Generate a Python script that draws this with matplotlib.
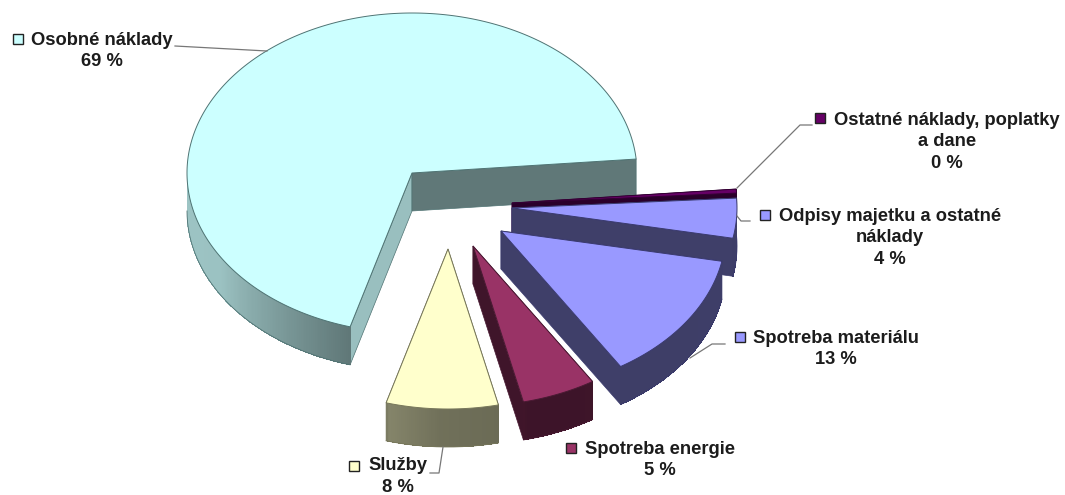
import numpy as np
import matplotlib
matplotlib.use('Agg')
import matplotlib.pyplot as plt
from matplotlib.colors import to_rgb

categories = ['Osobné náklady', 'Služby', 'Spotreba energie', 'Spotreba materiálu',
              'Odpisy majetku a ostatné\nnáklady', 'Ostatné náklady, poplatky\na dane']
values = [68.9, 8.0, 5.3, 13.0, 4.0, 0.4]
percent_labels = ['69 %', '8 %', '5 %', '13 %', '4 %', '0 %']

top_colors = ['#CCFFFF', '#FFFFCC', '#993366', '#9999FF', '#9999FF', '#660066']
line_colors = ['#4f7373', '#77775a', '#4a1a33', '#3a3a6e', '#3a3a6e', '#330033']
shifts = [(0, 0), (36, 76), (61, 73), (89, 58), (100, 35), (100, 30)]
key_pos = [(17.5, 39), (354, 466), (571, 448), (740, 337), (765, 215), (820, 118)]
label_pos = [(102, 51), (398, 476.5), (660, 460), (836, 349), (890, 238), (947, 142)]
leaders = [[(175, 46), (267, 51)],
           [(430, 473), (439, 473), (443, 447)],
           None,
           [(725, 344), (712, 344), (690, 358)],
           [(750, 221), (741, 221), (737, 216)],
           [(812, 125), (800, 125), (737, 188)]]

# ellipse of the pie top, in pixels
cx, cy = 412, 173
rx, ry = 225, 160
depth = 38
start_angle = 5.0


def point(angle, dx, dy, down=0):
    a = np.radians(angle)
    return cx + dx + rx * np.cos(a), cy + dy - ry * np.sin(a) + down


def side_shade(angle):
    return np.interp(angle, [180, 212, 254, 255, 268, 283, 284, 365],
                     [0.77, 0.76, 0.47, 0.52, 0.44, 0.42, 0.40, 0.41])


fig = plt.figure(figsize=(10.65, 4.95), dpi=100)
ax = fig.add_axes([0, 0, 1, 1])
ax.set_xlim(0, 1065)
ax.set_ylim(495, 0)
ax.axis('off')

sweeps = np.array(values) / sum(values) * 360
starts = start_angle + np.concatenate(([0], np.cumsum(sweeps)[:-1]))

# back to front: the big slice, then the thin one, then round to the front
order = [0, 5, 4, 3, 2, 1]
for z, i in enumerate(order):
    dx, dy = shifts[i]
    a0, a1 = starts[i], starts[i] + sweeps[i]
    base = np.array(to_rgb(top_colors[i]))
    edge = line_colors[i]
    apex = (cx + dx, cy + dy)

    # the two cut faces, the far one first
    near_shade = 0.47 if i == 0 else 0.41
    far_shade = 0.75 if i == 0 else 0.41
    for ang, shade in ((a1, far_shade), (a0, near_shade)):
        px, py = point(ang, dx, dy)
        ax.fill([apex[0], px, px, apex[0]],
                [apex[1], py, py + depth, apex[1] + depth],
                fc=base * shade, ec=edge, lw=0.5, zorder=z * 3 + 1)

    # outer rim, front part only, in small steps for the shading
    rim0 = max(a0, 180)
    if a1 > rim0:
        steps = np.linspace(rim0, a1, max(int((a1 - rim0) * 2), 2) + 1)
        for s0, s1 in zip(steps[:-1], steps[1:]):
            x0, y0 = point(s0, dx, dy)
            x1, y1 = point(min(s1 + 0.6, a1), dx, dy)
            col = base * side_shade((s0 + s1) / 2)
            ax.fill([x0, x1, x1, x0], [y0, y1, y1 + depth, y0 + depth],
                    fc=col, lw=0, antialiased=False, zorder=z * 3 + 2)
        arc = np.linspace(rim0, a1, 200)
        bx, by = point(arc, dx, dy, depth)
        ax.plot(bx, by, c=edge, lw=0.6, zorder=z * 3 + 2)

    # top face
    arc = np.linspace(a0, a1, 300)
    tx, ty = point(arc, dx, dy)
    ax.fill(np.r_[apex[0], tx], np.r_[apex[1], ty], fc=base, ec=edge, lw=0.7,
            zorder=z * 3 + 3)

for i, name in enumerate(categories):
    ax.plot(*key_pos[i], marker='s', ms=6.9, mfc=top_colors[i], mec='#222222', mew=1.0,
            zorder=30)
    ax.text(*label_pos[i], name + '\n' + percent_labels[i], ha='center', va='center',
            family='Liberation Sans', weight='bold', fontsize=13.2, color='#1c1c1c',
            linespacing=1.36, zorder=30)
    if leaders[i]:
        lx, ly = zip(*leaders[i])
        ax.plot(lx, ly, c='#777777', lw=0.9, zorder=30)

fig.savefig('out.png', dpi=100)
